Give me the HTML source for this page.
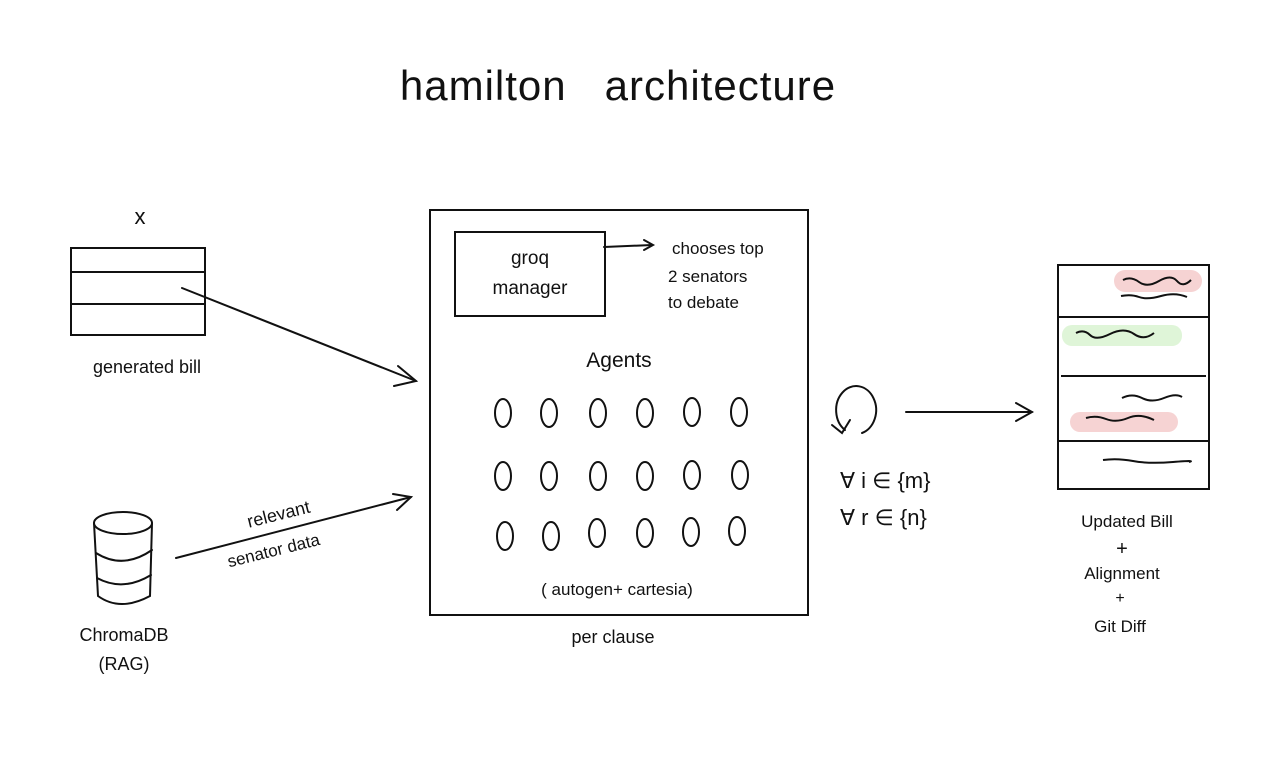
<!DOCTYPE html>
<html><head><style>
html,body{margin:0;padding:0;background:#fff;}
svg{display:block}
text{font-family:"Liberation Sans",sans-serif;fill:#111;}
</style></head><body>
<svg width="1280" height="757" viewBox="0 0 1280 757" xmlns="http://www.w3.org/2000/svg">
<rect width="1280" height="757" fill="#fff"/>
<g stroke="#111" stroke-width="2" fill="none" stroke-linecap="round">
<!-- bill -->
<rect x="71" y="248" width="134" height="87"/>
<line x1="71" y1="272" x2="205" y2="272"/>
<line x1="71" y1="304" x2="205" y2="304"/>
<line x1="182" y1="288" x2="416" y2="381"/>
<polyline points="398,366 416,381 394,386"/>
<!-- db -->
<ellipse cx="123" cy="523" rx="29" ry="11"/>
<path d="M94 523 L98 596 Q120 612 150 596 L152 523"/>
<path d="M96 553 Q123 570 152 550"/>
<path d="M97 578 Q123 592 151 575"/>
<line x1="176" y1="558" x2="411" y2="497"/>
<polyline points="393,494 411,497 397,510"/>
<!-- main box -->
<rect x="430" y="210" width="378" height="405"/>
<rect x="455" y="232" width="150" height="84"/>
<line x1="604" y1="247" x2="652" y2="245"/>
<polyline points="644,240 653,245 644,250"/>
<!-- cycle -->
<path d="M845 430 A20 24 0 1 1 862 433"/>
<polyline points="832,425 842,433 850,420"/>
<line x1="906" y1="412" x2="1032" y2="412"/>
<polyline points="1016,403 1032,412 1016,421"/>
</g>
<g stroke="#111" stroke-width="2" fill="none">
<ellipse cx="503" cy="413" rx="8" ry="14"/><ellipse cx="549" cy="413" rx="8" ry="14"/><ellipse cx="598" cy="413" rx="8" ry="14"/><ellipse cx="645" cy="413" rx="8" ry="14"/><ellipse cx="692" cy="412" rx="8" ry="14"/><ellipse cx="739" cy="412" rx="8" ry="14"/>
<ellipse cx="503" cy="476" rx="8" ry="14"/><ellipse cx="549" cy="476" rx="8" ry="14"/><ellipse cx="598" cy="476" rx="8" ry="14"/><ellipse cx="645" cy="476" rx="8" ry="14"/><ellipse cx="692" cy="475" rx="8" ry="14"/><ellipse cx="740" cy="475" rx="8" ry="14"/>
<ellipse cx="505" cy="536" rx="8" ry="14"/><ellipse cx="551" cy="536" rx="8" ry="14"/><ellipse cx="597" cy="533" rx="8" ry="14"/><ellipse cx="645" cy="533" rx="8" ry="14"/><ellipse cx="691" cy="532" rx="8" ry="14"/><ellipse cx="737" cy="531" rx="8" ry="14"/>
</g>
<!-- updated bill -->
<rect x="1114" y="270" width="88" height="22" rx="11" fill="#f6d3d3"/>
<rect x="1062" y="325" width="120" height="21" rx="10" fill="#dff5d8"/>
<rect x="1070" y="412" width="108" height="20" rx="10" fill="#f6d3d3"/>
<g stroke="#111" stroke-width="2" fill="none">
<rect x="1058" y="265" width="151" height="224"/>
<line x1="1058" y1="317" x2="1209" y2="317"/>
<line x1="1061" y1="376" x2="1206" y2="376"/>
<line x1="1058" y1="441" x2="1209" y2="441"/>
<path d="M1123 280 q8 -4 16 2 t20 -1 t18 0 t14 -1"/>
<path d="M1121 296 q10 -2 18 1 t22 -1 t26 1"/>
<path d="M1076 333 q8 -4 14 2 t20 -1 t24 0 t20 -1"/>
<path d="M1122 398 q10 -5 20 0 t22 0 t18 -1"/>
<path d="M1086 418 q10 -3 20 1 t22 -1 t26 2"/>
<path d="M1103 460 q14 -2 30 1 t40 1 t16 0"/>
</g>
<text x="618" y="100" font-size="42" text-anchor="middle" style="letter-spacing:1px">hamilton&#160;&#160;&#160;architecture</text>
<text x="140" y="224" font-size="22" text-anchor="middle">x</text>
<text x="147" y="373" font-size="18" text-anchor="middle">generated bill</text>
<text x="124" y="641" font-size="18" text-anchor="middle">ChromaDB</text>
<text x="124" y="670" font-size="18" text-anchor="middle">(RAG)</text>
<text x="280" y="520" font-size="18" text-anchor="middle" transform="rotate(-14 280 520)">relevant</text>
<text x="275" y="556" font-size="17" text-anchor="middle" transform="rotate(-14 275 556)">senator data</text>
<text x="530" y="264" font-size="19" text-anchor="middle">groq</text>
<text x="530" y="294" font-size="19" text-anchor="middle">manager</text>
<text x="672" y="254" font-size="17">chooses top</text>
<text x="668" y="282" font-size="17">2 senators</text>
<text x="668" y="308" font-size="17">to debate</text>
<text x="619" y="367" font-size="21" text-anchor="middle">Agents</text>
<text x="617" y="595" font-size="17" text-anchor="middle">( autogen+ cartesia)</text>
<text x="613" y="643" font-size="18" text-anchor="middle">per clause</text>
<text x="840" y="488" font-size="22">∀ i ∈ {m}</text>
<text x="840" y="525" font-size="22">∀ r ∈ {n}</text>
<text x="1127" y="527" font-size="17" text-anchor="middle">Updated Bill</text>
<text x="1122" y="555" font-size="20" text-anchor="middle">+</text>
<text x="1122" y="579" font-size="17" text-anchor="middle">Alignment</text>
<text x="1120" y="603" font-size="16" text-anchor="middle">+</text>
<text x="1120" y="632" font-size="17" text-anchor="middle">Git Diff</text>
</svg>
</body></html>
